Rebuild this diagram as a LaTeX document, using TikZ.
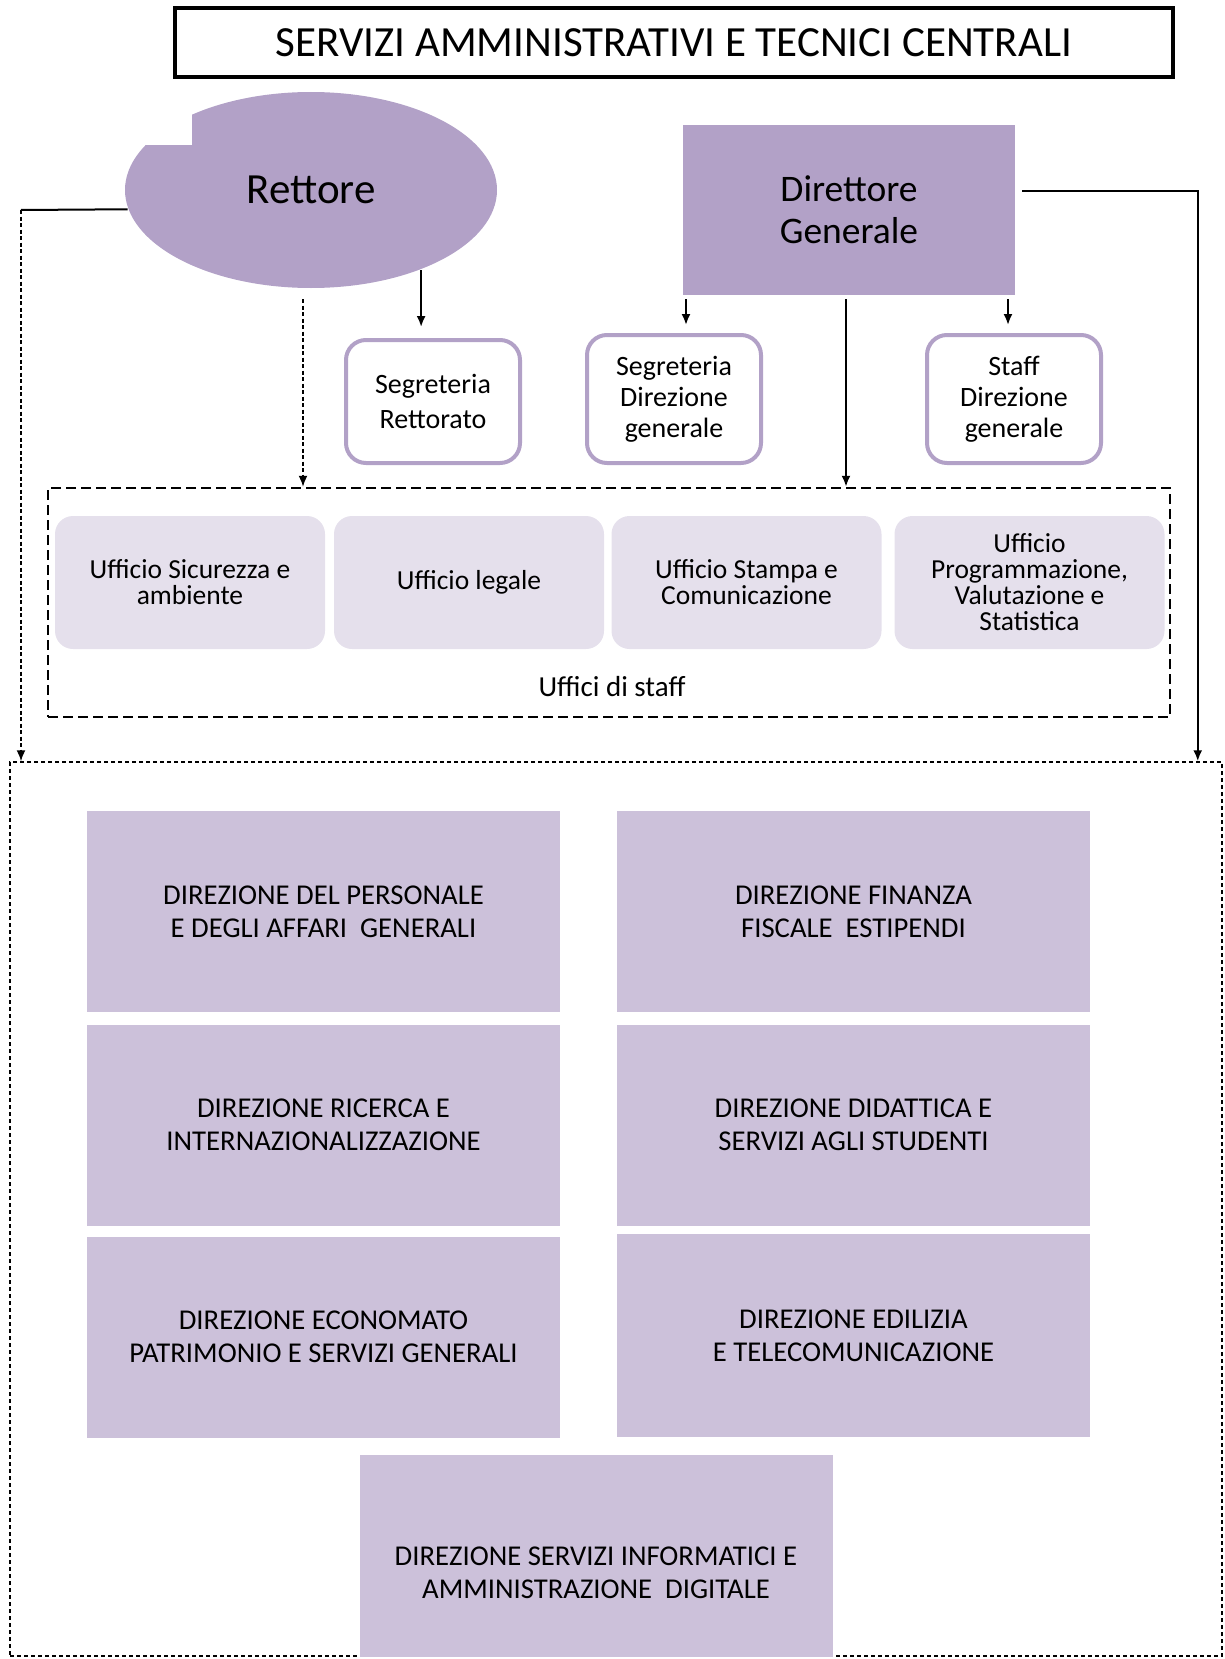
\documentclass[tikz,border=0pt]{standalone}
\usepackage{fontspec}
\setmainfont{Carlito}
\usetikzlibrary{shapes.geometric,arrows.meta,positioning}
\definecolor{lilla}{HTML}{B2A1C7}
\definecolor{lillachiaro}{HTML}{CCC1DA}
\definecolor{lillatenue}{HTML}{E5E0EC}

\begin{document}
\begin{tikzpicture}[x=1pt,y=-1pt,line width=2pt,
  freccia/.style={-{Latex[length=11pt,width=9pt]}},
  punteggiata/.style={dash pattern=on 4pt off 2.5pt,line width=1.6pt},
  segr/.style={draw=lilla,line width=4pt,rounded corners=20pt,minimum width=174pt,align=center},
  uff/.style={fill=lillatenue,rounded corners=18pt,minimum width=270pt,minimum height=133pt,align=center,font=\fontsize{27.5}{26}\selectfont},
  dir/.style={fill=lillachiaro,minimum width=473pt,minimum height=201pt,align=center,font=\fontsize{28.7}{33}\selectfont}]
 \useasboundingbox (0,0) rectangle (1224,1659);
 \node[draw,line width=4pt,minimum width=998pt,minimum height=69pt,font=\fontsize{43}{48}\selectfont] (tit) at (674,42.5) {SERVIZI AMMINISTRATIVI E TECNICI CENTRALI};
 % rettore e direttore
 \node[ellipse,fill=lilla,minimum width=372pt,minimum height=196pt,inner sep=0pt,font=\fontsize{43}{48}\selectfont] (rett) at (311,190) {Rettore};
 \fill[white] (118,84) rectangle (192,145);   % l'angolo mancante dell'ovale
 \node[fill=lilla,minimum width=332pt,minimum height=170pt,align=center,font=\fontsize{37.5}{42}\selectfont] (dg) at (849,210) {Direttore\\Generale};
 \node[segr,minimum height=123pt,font=\fontsize{28}{35}\selectfont] (sr) at (433,401.5) {Segreteria\\Rettorato};
 \node[segr,minimum height=128pt,font=\fontsize{28}{31}\selectfont] (sdg) at (674,399) {Segreteria\\Direzione\\generale};
 \node[segr,minimum height=128pt,font=\fontsize{28}{31}\selectfont] (stdg) at (1014,399) {Staff\\Direzione\\generale};
 % uffici di staff
 \node[draw,dash pattern=on 10pt off 5pt,line width=2.5pt,minimum width=1122pt,minimum height=229pt] (ustaff) at (609,602.5) {};
 \node[uff] (u1) at (190,582.5) {Ufficio Sicurezza e\\ambiente};
 \node[uff] (u2) at (469,582.5) {Ufficio legale};
 \node[uff] (u3) at (746.5,582.5) {Ufficio Stampa e\\Comunicazione};
 \node[uff] (u4) at (1029.5,582.5) {Ufficio\\Programmazione,\\Valutazione e\\Statistica};
 \node[font=\fontsize{29}{32}\selectfont] (lbl) at (612,687) {Uffici di staff};
 % direzioni
 \node[draw,dash pattern=on 4pt off 3pt,line width=1.5pt,minimum width=1212pt,minimum height=894pt] (area) at (616,1209) {};
 \node[dir] (d1) at (323.5,911.5) {DIREZIONE DEL PERSONALE\\E DEGLI AFFARI~ GENERALI};
 \node[dir] (d2) at (853.5,911.5) {DIREZIONE FINANZA\\FISCALE~ ESTIPENDI};
 \node[dir] (d3) at (323.5,1125) {DIREZIONE RICERCA E\\INTERNAZIONALIZZAZIONE};
 \node[dir] (d4) at (853.5,1125) {DIREZIONE DIDATTICA E\\SERVIZI AGLI STUDENTI};
 \node[dir] (d5) at (323.5,1337) {DIREZIONE ECONOMATO\\PATRIMONIO E SERVIZI GENERALI};
 \node[dir,minimum height=203pt] (d6) at (853.5,1335.5) {DIREZIONE EDILIZIA\\E TELECOMUNICAZIONE};
 \node[dir,minimum height=202pt] (d7) at (596,1556) {};
 \node[align=center,font=\fontsize{28.7}{33}\selectfont] (t7) at ([yshift=-17pt]d7.center) {DIREZIONE SERVIZI INFORMATICI E\\AMMINISTRAZIONE~ DIGITALE};
 % collegamenti
 \coordinate (sx) at (21,210);
 \coordinate (r1) at ([xshift=-8pt,yshift=-10pt]rett.south);
 \draw (rett.186) -- (sx);
 \draw[punteggiata,freccia] (sx) -- (sx |- area.north);
 \draw[punteggiata,freccia] (r1) -- (r1 |- ustaff.north);
 \draw[freccia,shorten >=11pt] (rett.-36.5) -- (rett.-36.5 |- sr.north);
 \draw[freccia,shorten >=8pt] ([xshift=4pt,yshift=-3pt]dg.south west) -- ([xshift=4pt]dg.south west |- sdg.north);
 \draw[freccia] ([xshift=-3pt,yshift=-3pt]dg.south) -- ([xshift=-3pt]dg.south |- ustaff.north);
 \draw[freccia,shorten >=8pt] ([xshift=-8pt,yshift=-3pt]dg.south east) -- ([xshift=-8pt]dg.south east |- stdg.north);
 \draw[freccia] ([xshift=6pt,yshift=19pt]dg.east) -| ([xshift=-25pt]area.north east);
\end{tikzpicture}
\end{document}
